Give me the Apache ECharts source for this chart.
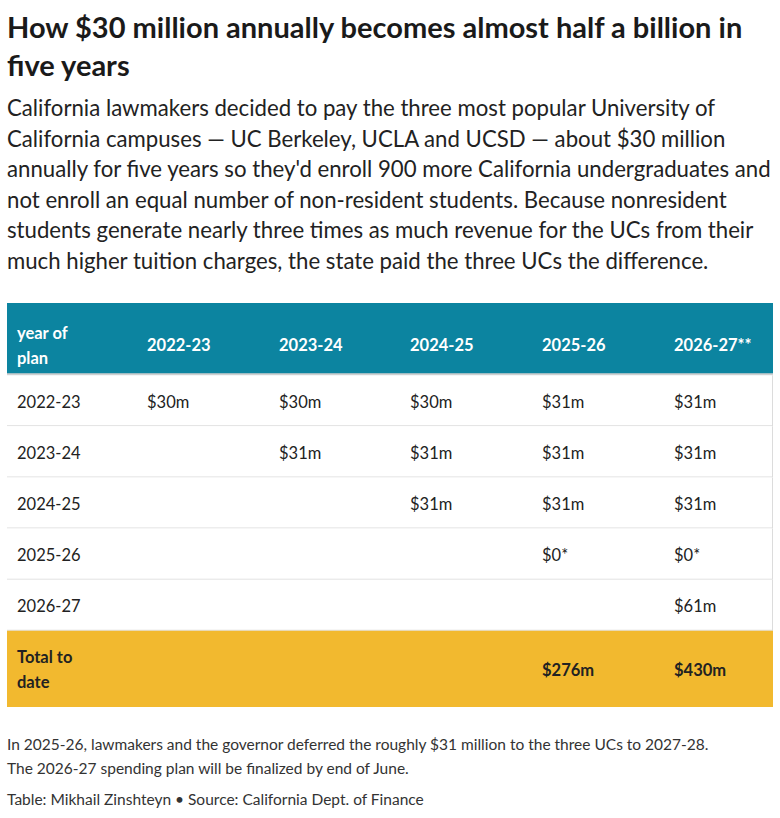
<!DOCTYPE html>
<html><head><meta charset="utf-8">
<script src="https://cdn.jsdelivr.net/npm/echarts@6/dist/echarts.min.js"></script>
<style>
body{margin:0;background:#fff;font-family:Lato,"Noto Sans",sans-serif;color:#222;}
#t{position:absolute;left:7px;top:8px;font-size:29px;font-weight:bold;line-height:38px;white-space:nowrap;color:#1a1a1a}
#s{position:absolute;left:7px;top:93px;font-size:22.2px;line-height:30.6px;white-space:nowrap;color:#222}
#c{position:absolute;left:7px;top:303px;width:766px;height:404px}
.f{position:absolute;left:7px;font-size:15.5px;white-space:nowrap;color:#333}
</style></head><body>
<div id="t">How $30 million annually becomes almost half a billion in<br>five years</div>
<div id="s">California lawmakers decided to pay the three most popular University of<br>California campuses — UC Berkeley, UCLA and UCSD — about $30 million<br>annually for five years so they'd enroll 900 more California undergraduates and<br>not enroll an equal number of non-resident students. Because nonresident<br>students generate nearly three times as much revenue for the UCs from their<br>much higher tuition charges, the state paid the three UCs the difference.</div>
<div id="c"></div>
<div class="f" style="top:735px">In 2025-26, lawmakers and the governor deferred the roughly $31 million to the three UCs to 2027-28.</div>
<div class="f" style="top:759px">The 2026-27 spending plan will be finalized by end of June.</div>
<div class="f" style="top:790px">Table: Mikhail Zinshteyn • Source: California Dept. of Finance</div>
<script>
const headers = ["year of\nplan","2022-23","2023-24","2024-25","2025-26","2026-27**"];
const rowLabels = ["2022-23","2023-24","2024-25","2025-26","2026-27"];
const values = [
  ["$30m","$30m","$30m","$31m","$31m"],
  ["","$31m","$31m","$31m","$31m"],
  ["","","$31m","$31m","$31m"],
  ["","","","$0*","$0*"],
  ["","","","","$61m"]
];
const totalLabel = "Total to\ndate";
const totals = ["","","","$276m","$430m"];

const colW=[130,132,131,132,132,109];
const rowH=[72,51,51,51,51,51,76];
const cx=[0];colW.forEach(w=>cx.push(cx[cx.length-1]+w));
const cy=[0];rowH.forEach(h=>cy.push(cy[cy.length-1]+h));
const cells=[];
headers.forEach((h,c)=>cells.push([c,0,h]));
rowLabels.forEach((r,i)=>{cells.push([0,i+1,r]);values[i].forEach((v,c)=>cells.push([c+1,i+1,v]));});
cells.push([0,6,totalLabel]);totals.forEach((v,c)=>cells.push([c+1,6,v]));
const ch=echarts.init(document.getElementById('c'),null,{renderer:'svg'});
ch.setOption({animation:false,
grid:{left:0,right:0,top:0,bottom:0},
xAxis:{type:'value',min:0,max:cx[6],show:false},
yAxis:{type:'value',min:0,max:cy[7],inverse:true,show:false},
series:[{type:'custom',data:cells,renderItem:(p,api)=>{
 const c=api.value(0),r=api.value(1),txt=cells[p.dataIndex][2];
 const a=api.coord([cx[c],cy[r]]),b=api.coord([cx[c+1],cy[r+1]]);
 const hdr=r===0,tot=r===6;
 const fill=hdr?'#0c84a0':tot?'#f2b92f':'#fff';
 const ch=[{type:'rect',shape:{x:a[0],y:a[1],width:b[0]-a[0],height:b[1]-a[1]},style:{fill:fill}}];
 if(!hdr&&!tot) ch.push({type:'rect',shape:{x:a[0],y:b[1]-1,width:b[0]-a[0],height:1},style:{fill:'#dcdcdc'}});
 if(hdr) ch.push({type:'rect',shape:{x:a[0],y:b[1]-2,width:b[0]-a[0],height:2},style:{fill:'#d0d0d0'}});
 if(c===5&&!hdr&&!tot) ch.push({type:'rect',shape:{x:b[0]-1,y:a[1],width:1,height:b[1]-a[1]},style:{fill:'#dcdcdc'}});
 ch.push({type:'text',x:a[0]+10,y:(a[1]+b[1])/2+(hdr?6:1),style:{text:txt,fill:hdr?'#fff':'#222',
   font:((hdr||tot)?'bold ':'')+'16.5px Lato, "Noto Sans", sans-serif',lineHeight:25,verticalAlign:'middle',align:'left'}});
 return {type:'group',children:ch};
}}]});
</script></body></html>
